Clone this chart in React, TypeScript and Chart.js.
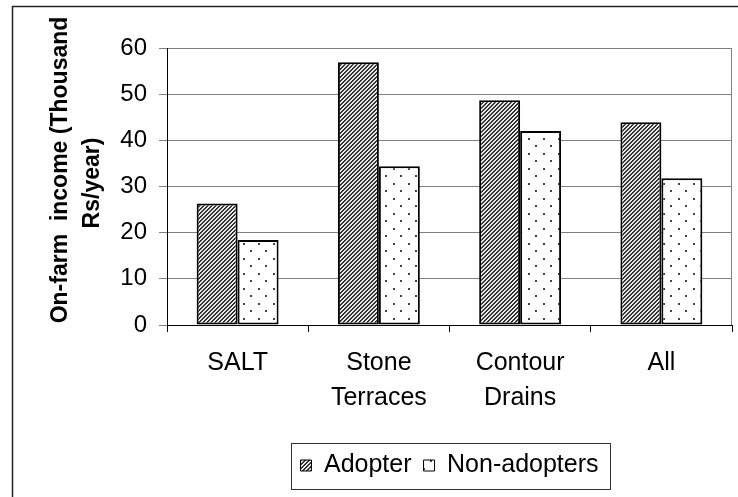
import React, { useEffect, useRef } from 'react';
import { Chart, registerables } from 'chart.js';

Chart.register(...registerables);

const categories: (string | string[])[] = ['SALT', ['Stone', 'Terraces'], ['Contour', 'Drains'], 'All'];
const adopterValues = [26.3, 56.9, 48.7, 43.9];
const nonAdopterValues = [18.4, 34.4, 42.0, 31.8];
const seriesNames = ['Adopter', 'Non-adopters'];
const yAxisMin = 0;
const yAxisMax = 60;
const yAxisStep = 10;
const yTitleLines = ['On-farm  income (Thousand', 'Rs/year)'];

const FONT = '"Liberation Sans", Arial, Helvetica, sans-serif';

function makeHatch(ctx: CanvasRenderingContext2D): CanvasPattern | string {
  const c = document.createElement('canvas');
  c.width = 4;
  c.height = 4;
  const g = c.getContext('2d');
  if (!g) return '#777';
  const img = g.createImageData(4, 4);
  for (let y = 0; y < 4; y++) {
    for (let x = 0; x < 4; x++) {
      const i = (y * 4 + x) * 4;
      const dark = (x + y) % 4 < 2;
      const v = dark ? 50 : 235;
      img.data[i] = v;
      img.data[i + 1] = v;
      img.data[i + 2] = v;
      img.data[i + 3] = 255;
    }
  }
  g.putImageData(img, 0, 0);
  return ctx.createPattern(c, 'repeat') || '#777';
}

function makeDots(ctx: CanvasRenderingContext2D): CanvasPattern | string {
  const c = document.createElement('canvas');
  c.width = 15;
  c.height = 15;
  const g = c.getContext('2d');
  if (!g) return '#fff';
  g.fillStyle = '#ffffff';
  g.fillRect(0, 0, 15, 15);
  g.fillStyle = '#444444';
  g.fillRect(3, 3, 2, 2);
  g.fillRect(10, 10, 2, 2);
  return ctx.createPattern(c, 'repeat') || '#fff';
}

const decorPlugin = {
  id: 'decor',
  beforeDatasetsDraw(chart: any) {
    const { ctx, chartArea: a } = chart;
    ctx.save();
    ctx.strokeStyle = '#808080';
    ctx.lineWidth = 1;
    ctx.beginPath();
    ctx.moveTo(a.right - 0.5, a.top);
    ctx.lineTo(a.right - 0.5, a.bottom);
    ctx.stroke();
    ctx.restore();
  },
  afterDraw(chart: any) {
    const { ctx } = chart;
    ctx.save();
    // outer chart border
    ctx.strokeStyle = '#222';
    ctx.lineWidth = 1.5;
    ctx.strokeRect(12.5, 6.5, 1000, 1000);

    // legend frame
    const boxes = chart.legend && chart.legend.legendHitBoxes;
    if (boxes && boxes.length) {
      let l = Infinity;
      let r = -Infinity;
      boxes.forEach((b: any) => {
        l = Math.min(l, b.left);
        r = Math.max(r, b.left + b.width);
      });
      const cy = boxes[0].top + boxes[0].height / 2;
      ctx.strokeStyle = '#333';
      ctx.lineWidth = 1;
      ctx.strokeRect(Math.round(l - 9) + 0.5, Math.round(cy - 23) + 0.5, Math.round(r - l + 21), 46);
    }

    // y-axis title
    ctx.fillStyle = '#000';
    ctx.font = `bold 23px ${FONT}`;
    ctx.textAlign = 'center';
    ctx.textBaseline = 'alphabetic';
    const pos = [
      [66.5, 170],
      [99, 183],
    ];
    yTitleLines.forEach((line, i) => {
      ctx.save();
      ctx.translate(pos[i][0], pos[i][1]);
      ctx.rotate(-Math.PI / 2);
      ctx.fillText(line, 0, 0);
      ctx.restore();
    });
    ctx.restore();
  },
};

export default function App() {
  const ref = useRef<HTMLCanvasElement | null>(null);

  useEffect(() => {
    const canvas = ref.current;
    if (!canvas) return;
    const ctx = canvas.getContext('2d');
    if (!ctx) return;
    const hatch = makeHatch(ctx);
    const dots = makeDots(ctx);

    const chart = new Chart(canvas, {
      type: 'bar',
      data: {
        labels: categories,
        datasets: [
          {
            label: seriesNames[0],
            data: adopterValues,
            backgroundColor: hatch as any,
            borderColor: '#000',
            borderWidth: 2,
            borderSkipped: false,
            barPercentage: 1,
            categoryPercentage: 0.58,
          },
          {
            label: seriesNames[1],
            data: nonAdopterValues,
            backgroundColor: dots as any,
            borderColor: '#000',
            borderWidth: 2,
            borderSkipped: false,
            barPercentage: 1,
            categoryPercentage: 0.58,
          },
        ],
      },
      options: {
        responsive: false,
        animation: false,
        events: [],
        layout: { padding: { left: 12, right: 6, top: 48, bottom: 9 } },
        plugins: {
          tooltip: { enabled: false },
          title: { display: false },
          legend: {
            display: true,
            position: 'bottom',
            fullSize: false,
            labels: {
              color: '#000',
              font: { family: FONT, size: 25 },
              boxWidth: 11,
              boxHeight: 11,
              padding: 12,
              generateLabels: (c: any) =>
                Chart.defaults.plugins.legend.labels
                  .generateLabels(c)
                  .map((it: any) => ({ ...it, lineWidth: 1, strokeStyle: '#000' })),
            },
          },
        },
        scales: {
          x: {
            type: 'category',
            offset: true,
            afterFit: (s: any) => {
              s.height = 116;
            },
            grid: {
              display: true,
              drawOnChartArea: false,
              drawTicks: true,
              tickLength: 7,
              color: '#000',
              offset: true,
            },
            border: { display: true, color: '#000', width: 1 },
            ticks: {
              color: '#000',
              font: { family: FONT, size: 25, lineHeight: 1.4 },
              padding: 14,
              maxRotation: 0,
              minRotation: 0,
              autoSkip: false,
            },
          },
          y: {
            min: yAxisMin,
            max: yAxisMax,
            afterFit: (s: any) => {
              s.width = 155;
            },
            grid: {
              color: '#808080',
              lineWidth: 1,
              drawTicks: true,
              tickLength: 8,
            },
            border: { display: true, color: '#000', width: 1 },
            ticks: {
              stepSize: yAxisStep,
              color: '#000',
              font: { family: FONT, size: 24 },
              padding: 12,
            },
          },
        },
      },
      plugins: [decorPlugin],
    });

    return () => {
      chart.destroy();
    };
  }, []);

  return (
    <div style={{ position: 'fixed', left: 0, top: 0, width: 738, height: 497, background: '#fff' }}>
      <canvas ref={ref} width={738} height={497} style={{ display: 'block' }} />
    </div>
  );
}
